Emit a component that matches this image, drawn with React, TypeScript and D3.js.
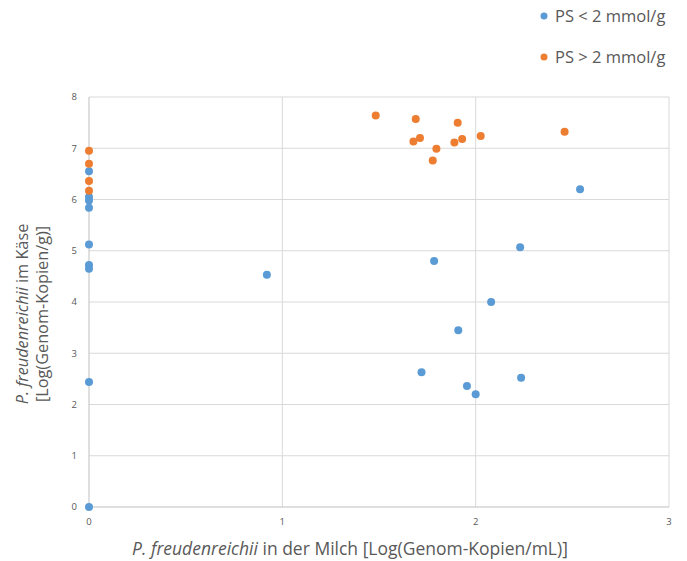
import * as d3 from 'd3'

// x: log copies in milk, y: log copies in cheese
const lowX = [0, 0, 0, 0, 0, 0, 0, 0, 0, 0.92, 1.785, 2.23, 2.08, 1.91, 1.72, 1.955, 2.0, 2.235, 2.54]
const lowY = [0, 2.44, 4.65, 4.72, 5.12, 5.84, 5.98, 6.05, 6.55, 4.53, 4.8, 5.07, 4.0, 3.45, 2.63, 2.36, 2.2, 2.52, 6.2]

const highX = [0, 0, 0, 0, 1.483, 1.69, 1.907, 1.712, 1.678, 1.93, 1.89, 2.026, 1.797, 1.778, 2.46]
const highY = [6.95, 6.7, 6.36, 6.17, 7.64, 7.57, 7.5, 7.2, 7.13, 7.18, 7.11, 7.24, 6.99, 6.76, 7.32]

const xTicks = [0, 1, 2, 3]
const yTicks = [0, 1, 2, 3, 4, 5, 6, 7, 8]

const seriesNames = ['PS < 2 mmol/g', 'PS > 2 mmol/g']
const colors = ['#5b9bd5', '#ed7d31']

const W = 687
const H = 561
const font = '"Open Sans", "Noto Sans", sans-serif'

const App = () => {
  const x = d3.scaleLinear().domain([0, 3]).range([89, 669])
  const y = d3.scaleLinear().domain([0, 8]).range([507, 97])

  const series = [
    { name: seriesNames[0], color: colors[0], pts: lowX.map((v, i) => [v, lowY[i]]) },
    { name: seriesNames[1], color: colors[1], pts: highX.map((v, i) => [v, highY[i]]) },
  ]

  return (
    <svg
      width={W}
      height={H}
      style={{ position: 'absolute', left: 0, top: 0, background: '#fff' }}
      fontFamily={font}
    >
      {yTicks.map((t) => (
        <g key={'y' + t}>
          {t > 0 && (
            <line x1={x(0)} x2={x(3)} y1={y(t)} y2={y(t)} stroke="#d9d9d9" strokeWidth={1} />
          )}
          <text x={x(0) - 12} y={y(t)} dy="0.35em" textAnchor="end" fontSize={9.5} fill="#595959">
            {t}
          </text>
        </g>
      ))}
      {xTicks.map((t) => (
        <g key={'x' + t}>
          {t > 0 && (
            <line x1={x(t)} x2={x(t)} y1={y(0)} y2={y(8)} stroke="#d9d9d9" strokeWidth={1} />
          )}
          <text x={x(t)} y={y(0) + 18} textAnchor="middle" fontSize={9.5} fill="#595959">
            {t}
          </text>
        </g>
      ))}
      <line x1={x(0)} x2={x(3)} y1={y(0)} y2={y(0)} stroke="#bfbfbf" />
      <line x1={x(0)} x2={x(0)} y1={y(0)} y2={y(8)} stroke="#bfbfbf" />

      {series.map((s) =>
        s.pts.map((p, i) => (
          <circle key={s.name + i} cx={x(p[0])} cy={y(p[1])} r={4} fill={s.color} />
        ))
      )}

      <text x={350} y={555} textAnchor="middle" fontSize={17.5} fill="#595959">
        <tspan fontStyle="italic">P. freudenreichii</tspan> in der Milch [Log(Genom-Kopien/mL)]
      </text>
      <g transform="translate(28,314) rotate(-90)">
        <text x={0} y={0} textAnchor="middle" fontSize={16.3} fill="#595959">
          <tspan fontStyle="italic">P. freudenreichii</tspan> im Käse
        </text>
        <text x={0} y={20} textAnchor="middle" fontSize={16.3} fill="#595959">
          [Log(Genom-Kopien/g)]
        </text>
      </g>

      {series.map((s, i) => (
        <g key={'leg' + i} transform={`translate(544,${16 + i * 41})`}>
          <circle r={3.5} fill={s.color} />
          <text x={11} dy="0.35em" fontSize={16.5} fill="#595959">
            {s.name}
          </text>
        </g>
      ))}
    </svg>
  )
}

export default App
